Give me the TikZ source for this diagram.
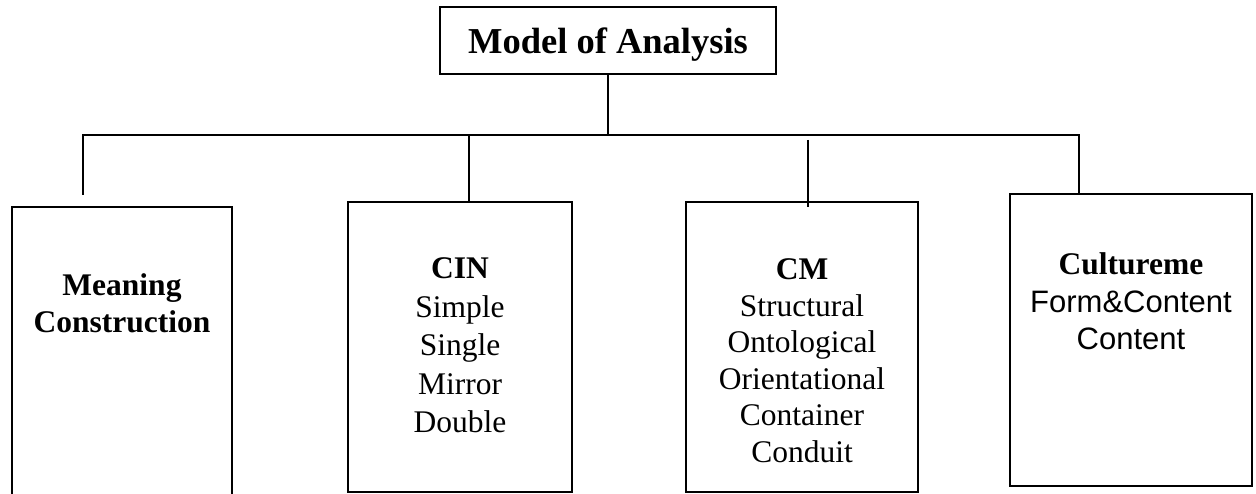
\documentclass[tikz,border=0pt]{standalone}
\usepackage{fontspec}
\setmainfont{Liberation Serif}
\newfontfamily\arialfont{Liberation Sans}
\begin{document}
\begin{tikzpicture}[x=1pt,y=-1pt,line width=2.2pt,
  box/.style={draw,rectangle,inner sep=0pt},
  lbl/.style={inner sep=0pt,anchor=base,align=center,
              font=\fontsize{31.5}{37}\selectfont}]
\useasboundingbox (0,0) rectangle (1256,494);
\clip (0,0) rectangle (1256,494);

% root box
\node[box,minimum width=336pt,minimum height=67pt,text depth=0pt,
      font=\bfseries\fontsize{36.5}{40}\selectfont] (top) at (608,40.5) {Model of Analysis};

% the four category boxes (the first runs off the lower edge)
\node[box,minimum width=220pt,minimum height=313pt] (b1) at (122,363.5) {};
\node[box,minimum width=224pt,minimum height=290pt] (b2) at (460,347) {};
\node[box,minimum width=232pt,minimum height=290pt] (b3) at (802,347) {};
\node[box,minimum width=242pt,minimum height=292pt] (b4) at (1131,340) {};

% box contents (positioned by the baseline of their last line)
\node[lbl] (t1) at (122,333) {\textbf{Meaning}\\\textbf{Construction}};
\node[lbl,font=\fontsize{31.5}{38.5}\selectfont] (t2) at (460,432.5)
  {\textbf{CIN}\\Simple\\Single\\Mirror\\Double};
\node[lbl,font=\fontsize{31.5}{36.6}\selectfont] (t3) at (802,462.5)
  {\textbf{CM}\\Structural\\Ontological\\Orientational\\Container\\Conduit};
\node[lbl,font=\fontsize{31.5}{38}\selectfont] (t4) at (1131,350)
  {\textbf{Cultureme}\\{\arialfont\fontsize{31}{38}\selectfont Form\&Content}\\{\arialfont\fontsize{31}{38}\selectfont Content}};

% connector tree
\coordinate (bus) at (608,135);
\coordinate (m1) at (83,195);
\coordinate (m2) at (469,135);
\coordinate (m3) at (808,140);
\coordinate (m3e) at (808,207);
\coordinate (m4) at (1079,194);
\draw (top.south) -- (bus);
\draw (m1) |- (bus) -| (m4);
\draw (m2) -- (m2 |- b2.north);
\draw (m3) -- (m3e);
\end{tikzpicture}
\end{document}
